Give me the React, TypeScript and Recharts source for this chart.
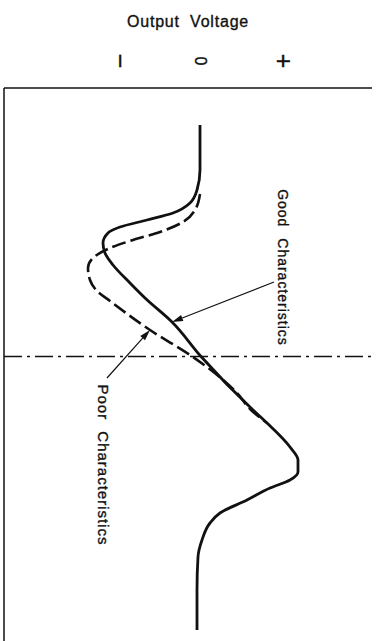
import React from 'react';
import { LineChart, Line, XAxis, YAxis, ReferenceLine, ReferenceDot } from 'recharts';

// Input (vertical axis) and output voltage (horizontal axis) samples
const goodInput = [4.63, 4.13, 3.73, 3.33, 3.07, 2.87, 2.73, 2.59, 2.47, 2.27, 2.07, 1.83, 1.47, 1.17, 0.69, 0, -1.07, -1.33, -1.81, -2.07, -2.31, -2.47, -2.63, -2.87, -3.13, -3.33, -3.67, -4.01, -4.67, -5.47];
const goodOutput = [0, 0, 0, -0.03, -0.1, -0.27, -0.53, -0.8, -0.92, -0.97, -0.95, -0.87, -0.7, -0.55, -0.28, 0.01, 0.53, 0.67, 0.9, 0.98, 0.98, 0.9, 0.7, 0.47, 0.2, 0.1, 0.02, -0.02, -0.03, -0.03];

const poorInput = [3.25, 2.93, 2.69, 2.49, 2.33, 2.17, 1.97, 1.77, 1.53, 1.31, 1.11, 0.53, -0.01, -0.73, -1.07, -1.33];
const poorOutput = [0, -0.05, -0.17, -0.4, -0.67, -0.9, -1.07, -1.12, -1.1, -1.03, -0.9, -0.5, -0.07, 0.37, 0.51, 0.67];

const voltageTicks = [-0.79, 0, 0.84];
const voltageTickLabels = ['−', '0', '+'];
const inputTicks = [-1, 1];

const goodArrow = [{ x: 0.74, y: 1.49 }, { x: -0.28, y: 0.69 }];
const poorArrow = [{ x: -0.93, y: -0.43 }, { x: -0.5, y: 0.53 }];
const goodLabelPos = { x: 0.83, y: 1.78 };
const poorLabelPos = { x: -0.965, y: -2.17 };

const goodData = goodInput.map((y, i) => ({ y, x: goodOutput[i] }));
const poorData = poorInput.map((y, i) => ({ y, x: poorOutput[i] }));

const FONT = '"Liberation Sans", Arial, sans-serif';
const INK = '#111';

const VoltTick = (props: any) => {
  const { x, payload } = props;
  const i = voltageTicks.findIndex((t) => Math.abs(t - payload.value) < 1e-6);
  const s = voltageTickLabels[i] ?? '';
  const size = s === '0' ? 16 : 25;
  const cy = 61;
  return (
    <text x={x} y={cy} transform={`rotate(90 ${x} ${cy})`} textAnchor="middle" dominantBaseline="central"
      fontSize={size} fontFamily={FONT} fill={INK} stroke={INK} strokeWidth={0.4}>{s}</text>
  );
};

const renderTitle = (props: any) => {
  const vb = props.viewBox || { x: 0, y: 0, width: 377 };
  const cx = vb.x + vb.width / 2;
  return (
    <text x={cx} y={vb.y + 27} textAnchor="middle" fontSize={16} fontFamily={FONT} fill={INK}
      stroke={INK} strokeWidth={0.35} letterSpacing={0.8} wordSpacing={5}>Output Voltage</text>
  );
};

const Arrow = (props: any) => {
  const { x1, y1, x2, y2 } = props;
  const dx = x2 - x1, dy = y2 - y1;
  const len = Math.hypot(dx, dy) || 1;
  const ux = dx / len, uy = dy / len;
  const L = 11, W = 3.2;
  const bx = x2 - ux * L, by = y2 - uy * L;
  const pts = `${x2},${y2} ${bx - uy * W},${by + ux * W} ${bx + uy * W},${by - ux * W}`;
  return (
    <g>
      <line x1={x1} y1={y1} x2={bx} y2={by} stroke={INK} strokeWidth={1.2} />
      <polygon points={pts} fill={INK} />
    </g>
  );
};

const makeLabel = (text: string, size: number) => (props: any) => {
  const { cx, cy } = props;
  return (
    <text x={cx} y={cy} transform={`rotate(90 ${cx} ${cy})`} textAnchor="middle" dominantBaseline="central"
      fontSize={size} fontFamily={FONT} fill={INK} stroke={INK} strokeWidth={0.35}
      letterSpacing={1} wordSpacing={6}>{text}</text>
  );
};

export default function App() {
  return (
    <div style={{ position: 'absolute', left: 0, top: 0, width: 377, height: 641, background: '#fff', overflow: 'hidden' }}>
      <LineChart width={377} height={641} layout="vertical" margin={{ top: 0, right: 5, bottom: 0, left: 4 }}>
        <XAxis xAxisId="v" type="number" orientation="top" domain={[-1.96, 1.72]} allowDataOverflow height={88}
          ticks={voltageTicks} interval={0} tick={<VoltTick />} tickLine={false}
          axisLine={{ stroke: INK, strokeWidth: 1.5 }} label={renderTitle} />
        <XAxis xAxisId="m" type="number" orientation="top" mirror domain={[-1.96, 1.72]} allowDataOverflow
          ticks={[0]} tick={false} tickSize={9} axisLine={false} tickLine={{ stroke: INK, strokeWidth: 1.5 }} />
        <YAxis yAxisId="i" type="number" dataKey="y" mirror reversed domain={[-5.69, 5.37]} allowDataOverflow
          ticks={inputTicks} tick={false} tickSize={8} axisLine={{ stroke: INK, strokeWidth: 1.5 }}
          tickLine={{ stroke: INK, strokeWidth: 1.3 }} />
        <ReferenceLine xAxisId="v" yAxisId="i" y={0} stroke={INK} strokeWidth={1.3} strokeDasharray="18 5 3 5" />
        <Line xAxisId="v" yAxisId="i" data={poorData} dataKey="x" type="monotone" stroke={INK} strokeWidth={2.6}
          strokeDasharray="14 5" dot={false} activeDot={false} isAnimationActive={false} />
        <Line xAxisId="v" yAxisId="i" data={goodData} dataKey="x" type="monotone" stroke={INK} strokeWidth={2.8}
          dot={false} activeDot={false} isAnimationActive={false} />
        <ReferenceLine xAxisId="v" yAxisId="i" segment={goodArrow} shape={Arrow} />
        <ReferenceLine xAxisId="v" yAxisId="i" segment={poorArrow} shape={Arrow} />
        <ReferenceDot xAxisId="v" yAxisId="i" x={goodLabelPos.x} y={goodLabelPos.y} shape={makeLabel('Good Characteristics', 14)} />
        <ReferenceDot xAxisId="v" yAxisId="i" x={poorLabelPos.x} y={poorLabelPos.y} shape={makeLabel('Poor Characteristics', 15)} />
      </LineChart>
    </div>
  );
}
